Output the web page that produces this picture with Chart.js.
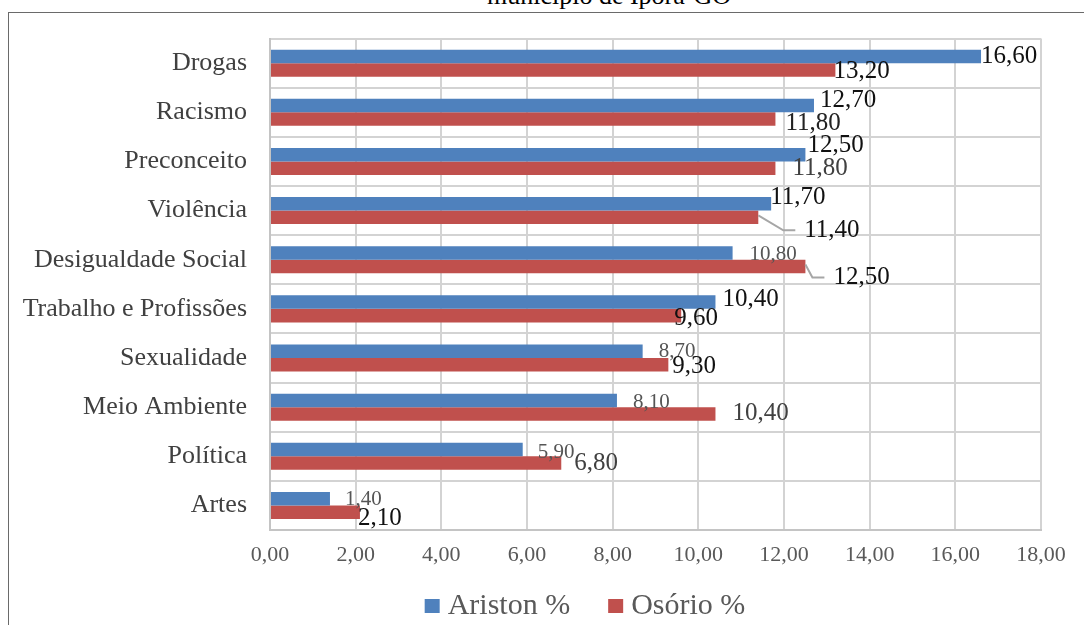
<!DOCTYPE html>
<html lang="pt">
<head>
<meta charset="utf-8">
<title>Temas transversais – Iporá-GO</title>
<script src="https://cdn.jsdelivr.net/npm/chart.js@4/dist/chart.umd.min.js"></script>
<style>
  html, body { margin: 0; padding: 0; background: #fff; overflow: hidden; }
  body { width: 1084px; height: 625px; position: relative; }
  #caption {
    position: absolute; left: 309px; width: 600px; top: -17px;
    text-align: center; font: 26px/26px "Liberation Serif", "Times New Roman", serif; color: #000;
    white-space: nowrap;
  }
  #frame {
    position: absolute; left: 8px; top: 12px; width: 1200px; height: 700px;
    border-left: 1px solid #6a6a6a; border-top: 1px solid #6a6a6a;
  }
  #chart { position: absolute; left: 0; top: 0; }
</style>
</head>
<body>
<div id="caption">município de Iporá-GO</div>
<div id="frame"></div>
<canvas id="chart" width="1084" height="625"></canvas>
<script>
// Temas e percentuais por escola
const categories = ['Drogas', 'Racismo', 'Preconceito', 'Violência', 'Desigualdade Social',
  'Trabalho e Profissões', 'Sexualidade', 'Meio Ambiente', 'Política', 'Artes'];
const seriesNames = ['Ariston %', 'Osório %'];
const aristonValues = [16.60, 12.70, 12.50, 11.70, 10.80, 10.40, 8.70, 8.10, 5.90, 1.40];
const osorioValues  = [13.20, 11.80, 11.80, 11.40, 12.50, 9.60, 9.30, 10.40, 6.80, 2.10];
const axisMin = 0, axisMax = 18, axisStep = 2;

// Placement of each value label relative to the end of its bar (pixels)
const labelStyle = {
  0: {
    dx:    [0, 6, 2, -1, 17, 7, 16, 16, 15, 15],
    dy:    [0, -5, -9, -6, 2, -3, 0, 2, 3, 1],
    size:  ['L', 'L', 'L', 'L', 'S', 'L', 'S', 'S', 'S', 'S'],
    color: ['#111', '#111', '#111', '#111', '#555', '#111', '#555', '#555', '#555', '#555'],
    leader:[false, false, false, false, false, false, false, false, false, false]
  },
  1: {
    dx:    [-2, 10, 17, 46, 28, -7, 4, 17, 13, -2],
    dy:    [2, 4, 0, 13, 11, 3, 2, 0, 0, 6],
    size:  ['L', 'L', 'L', 'L', 'L', 'L', 'L', 'L', 'L', 'L'],
    color: ['#111', '#222', '#404040', '#111', '#111', '#111', '#111', '#404040', '#404040', '#111'],
    leader:[false, false, false, true, true, false, false, false, false, false]
  }
};

const SERIF = '"Liberation Serif", "Times New Roman", serif';
const fmt = v => v.toFixed(2).replace('.', ',');

const valueLabels = {
  id: 'valueLabels',
  afterDatasetsDraw(chart) {
    const ctx = chart.ctx;
    ctx.save();
    ctx.textAlign = 'left';
    ctx.textBaseline = 'middle';
    chart.data.datasets.forEach((ds, di) => {
      const meta = chart.getDatasetMeta(di);
      const st = labelStyle[di];
      meta.data.forEach((bar, i) => {
        const x = bar.x + st.dx[i];
        const y = bar.y + st.dy[i];
        if (st.leader[i]) {
          ctx.strokeStyle = '#a6a6a6';
          ctx.lineWidth = 2;
          ctx.beginPath();
          ctx.moveTo(bar.x, bar.y - 2);
          ctx.lineTo(x - 21, y);
          ctx.lineTo(x - 9, y);
          ctx.stroke();
        }
        ctx.font = (st.size[i] === 'L' ? '25px ' : '21px ') + SERIF;
        ctx.fillStyle = st.color[i];
        ctx.fillText(fmt(ds.data[i]), x, y);
      });
    });
    ctx.restore();
  }
};

const bottomLegend = {
  id: 'bottomLegend',
  afterDraw(chart) {
    const ctx = chart.ctx;
    ctx.save();
    ctx.font = '30px ' + SERIF;
    ctx.textBaseline = 'alphabetic';
    ctx.textAlign = 'left';
    const box = 15, gap = 8, between = 38, baseline = 614, centerX = 585;
    const items = chart.data.datasets.map(ds => ({
      text: ds.label, color: ds.backgroundColor, w: ctx.measureText(ds.label).width
    }));
    const total = items.reduce((s, it) => s + box + gap + it.w, 0) + between * (items.length - 1);
    let x = centerX - total / 2;
    items.forEach(it => {
      ctx.fillStyle = it.color;
      ctx.fillRect(x, baseline - 15, box, 14);
      ctx.fillStyle = '#595959';
      ctx.fillText(it.text, x + box + gap, baseline);
      x += box + gap + it.w + between;
    });
    ctx.restore();
  }
};

new Chart(document.getElementById('chart'), {
  type: 'bar',
  data: {
    labels: categories,
    datasets: [
      { label: seriesNames[0], data: aristonValues, backgroundColor: '#4f81bd' },
      { label: seriesNames[1], data: osorioValues, backgroundColor: '#c0504d' }
    ]
  },
  options: {
    indexAxis: 'y',
    responsive: false,
    animation: false,
    devicePixelRatio: 1,
    categoryPercentage: 0.55,
    barPercentage: 1.0,
    layout: { padding: { top: 37, right: 43, left: 0, bottom: 0 } },
    plugins: { legend: { display: false }, tooltip: { enabled: false }, title: { display: false } },
    scales: {
      y: {
        grid: { offset: true, color: '#d3d3d3', lineWidth: 2, drawTicks: false },
        border: { color: '#c4c4c4', width: 2 },
        ticks: { font: { family: SERIF, size: 26 }, color: '#404040', padding: 23 },
        afterFit(s) { s.width = 270; }
      },
      x: {
        min: axisMin, max: axisMax,
        grid: { color: '#d3d3d3', lineWidth: 2, drawTicks: false },
        border: { color: '#c4c4c4', width: 2 },
        ticks: {
          stepSize: axisStep,
          font: { family: SERIF, size: 22 }, color: '#595959', padding: 12,
          callback: v => fmt(v)
        },
        afterFit(s) { s.height = 95; }
      }
    }
  },
  plugins: [valueLabels, bottomLegend]
});
</script>
</body>
</html>
